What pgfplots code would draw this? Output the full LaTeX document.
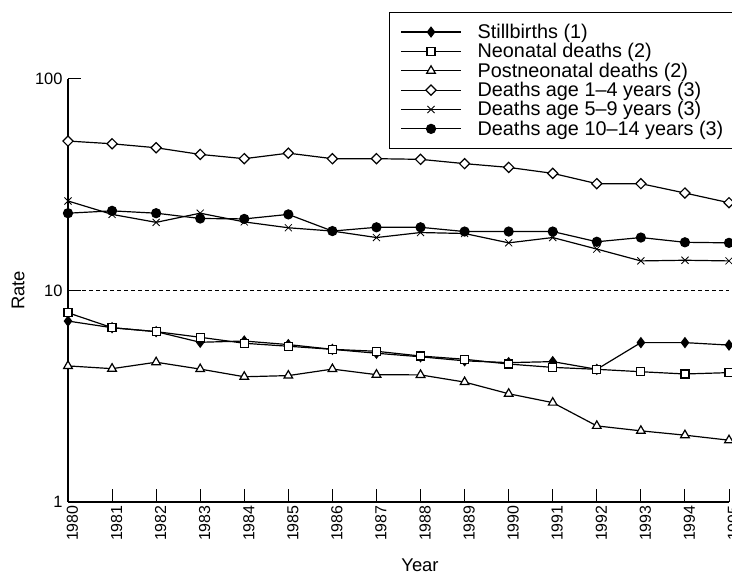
\documentclass[border=0pt]{standalone}
\usepackage{fontspec}
\setmainfont{Liberation Sans}
\usepackage{pgfplots}
\usepackage{pgfplotstable}
\pgfplotsset{compat=1.18}

% Rates per year, 1980--1995
\pgfplotstableread{
year  still  neo   postneo  d14   d59   d1014
1980  7.17   7.85  4.40     50.9  26.5  23.2
1981  6.67   6.67  4.27     49.4  22.9  23.8
1982  6.39   6.39  4.58     47.3  21.0  23.2
1983  5.69   6.01  4.25     44.0  23.2  21.9
1984  5.77   5.63  3.91     42.0  21.1  21.8
1985  5.55   5.45  3.96     44.6  19.8  22.9
1986  5.27   5.27  4.25     42.0  19.1  19.1
1987  5.05   5.16  4.00     42.0  17.8  19.9
1988  4.86   4.90  3.99     41.7  18.8  19.9
1989  4.65   4.73  3.69     39.8  18.6  19.0
1990  4.56   4.49  3.25     38.2  16.8  19.0
1991  4.61   4.33  2.95     35.8  17.8  19.0
1992  4.24   4.24  2.29     32.0  15.7  17.0
1993  5.67   4.13  2.17     32.0  13.8  17.8
1994  5.67   4.03  2.07     28.9  13.9  16.9
1995  5.52   4.09  1.96     26.0  13.8  16.8
}\rates

\begin{document}
\begin{tikzpicture}
\begin{semilogyaxis}[
  scale only axis,
  width=661bp, height=423bp,
  xmin=1980, xmax=1995, ymin=1, ymax=100,
  clip=false,
  axis x line=bottom, axis y line=left,
  axis line style={-, line width=1.2bp},
  xtick={1980,1981,...,1995},
  ytick={1,10,100}, yticklabels={1,10,100},
  yminorticks=false,
  tick align=inside,
  major tick length=13.5bp,
  every tick/.style={black, line width=1bp},
  /pgf/number format/assume math mode=true,
  xticklabel={\pgfmathprintnumber[1000 sep={}]{\tick}},
  xticklabel style={rotate=90, anchor=east, yshift=-4.5bp, font=\fontsize{16}{16}\selectfont},
  yticklabel style={xshift=-2bp, font=\fontsize{16.5}{17}\selectfont},
  legend style={at={(rel axis cs:0.4856,1.1584)}, anchor=north west,
    draw=black, line width=0.9bp,
    font=\fontsize{19.9}{19}\selectfont,
    inner xsep=11bp, inner ysep=11.7bp,
    row sep=3.5bp, column sep=16bp,
    nodes={inner sep=0bp}},
  legend cell align=left,
  legend image code/.code={%
    \draw[mark repeat=2, mark phase=2, #1] plot coordinates {(0bp,0bp) (30bp,0bp) (60bp,0bp)};},
  every axis plot/.append style={black, line width=1.2bp, mark options={line width=0.8bp, solid}},
]
\coordinate (origin) at (rel axis cs:0,0);

% reference level at a rate of 10
\addplot[forget plot, dash pattern=on 4bp off 3bp, line width=0.8bp] coordinates {(1980,10) (1995,10)};

\addplot[mark=diamond*, mark size=4.8bp, mark options={fill=black}] table[x=year, y=still] {\rates};
\addlegendentry{Stillbirths (1)}
\addplot[mark=square*, mark size=4bp, mark options={fill=white}] table[x=year, y=neo] {\rates};
\addlegendentry{Neonatal deaths (2)}
\addplot[mark=triangle*, mark size=5bp, mark options={fill=white}] table[x=year, y=postneo] {\rates};
\addlegendentry{Postneonatal deaths (2)}
\addplot[mark=square*, mark size=3.6bp, mark options={fill=white, rotate=45}] table[x=year, y=d14] {\rates};
\addlegendentry{Deaths age 1--4 years (3)}
\addplot[mark=x, mark size=5bp] table[x=year, y=d59] {\rates};
\addlegendentry{Deaths age 5--9 years (3)}
\addplot[mark=*, mark size=4.5bp, mark options={fill=black}] table[x=year, y=d1014] {\rates};
\addlegendentry{Deaths age 10--14 years (3)}
\end{semilogyaxis}
% axis titles
\node[rotate=90, font=\fontsize{18.5}{19}\selectfont] at ([xshift=-50bp, yshift=211.5bp]origin) {Rate};
\node[font=\fontsize{18.5}{19}\selectfont] at ([xshift=352bp, yshift=-63bp]origin) {Year};
\pgfresetboundingbox
\path[use as bounding box] ([xshift=-68bp, yshift=-71bp]origin) rectangle ([xshift=664bp, yshift=502bp]origin);
\end{tikzpicture}
\end{document}
